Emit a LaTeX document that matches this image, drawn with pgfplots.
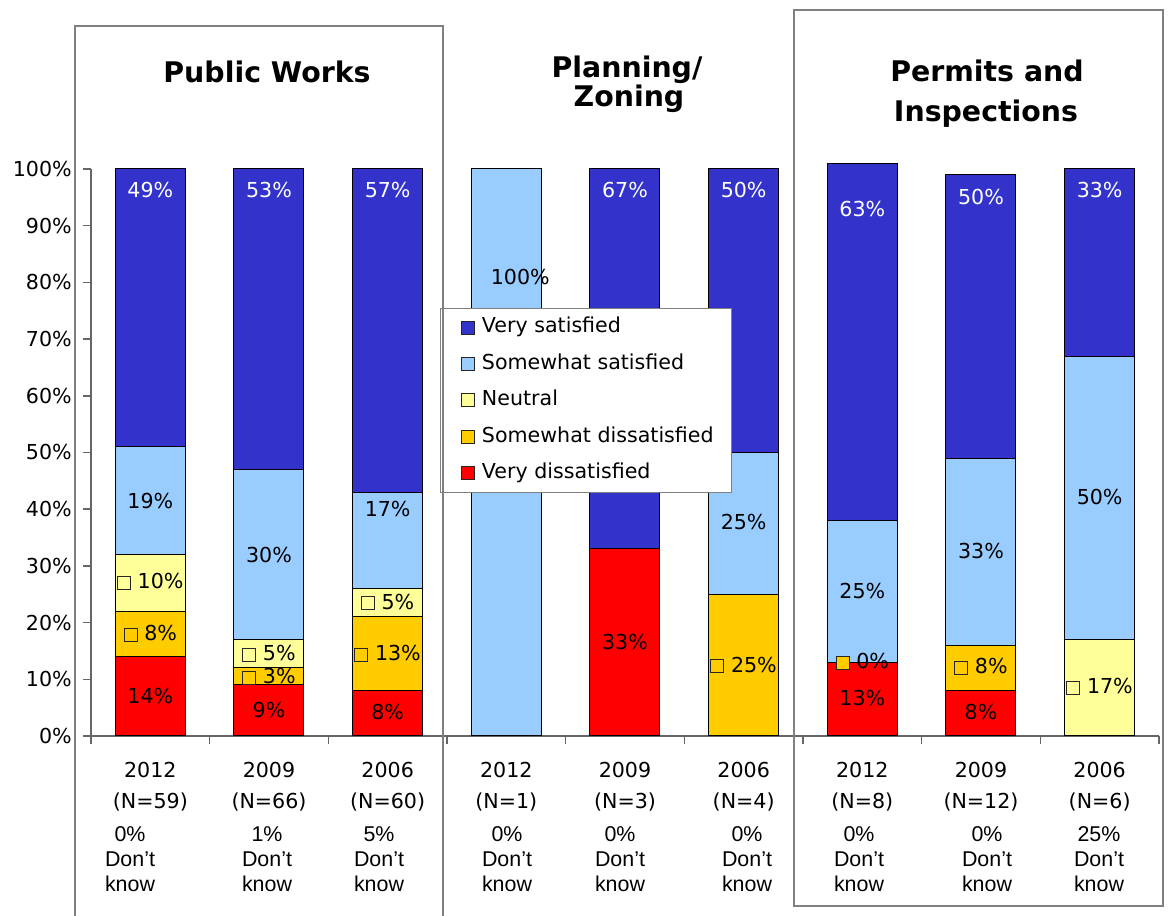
\documentclass[border=0pt]{standalone}
\usepackage{pgfplots}
\pgfplotsset{compat=1.18}
\usepackage{fontspec}
\setmainfont{DejaVu Sans}
\newfontfamily\dkfont{Liberation Sans}

\definecolor{cVS}{HTML}{3333CC}
\definecolor{cSS}{HTML}{99CCFF}
\definecolor{cN}{HTML}{FFFF99}
\definecolor{cSD}{HTML}{FFCC00}
\definecolor{cVD}{HTML}{FF0000}

\protected\def\ksq#1{{\setlength{\fboxsep}{0pt}\setlength{\fboxrule}{0.5pt}\fcolorbox{black!85}{#1}{\rule{0pt}{6pt}\hspace{6pt}}}}
\newcommand\lbl{\fontsize{10.3}{12.4}\selectfont}
\newcommand\ttl{\fontsize{14.2}{17}\selectfont\bfseries}
\newcommand\dk{\dkfont\fontsize{10.7}{12}\selectfont}

\pgfplotsset{
  commonax/.style={
    at={(45.5pt,90pt)}, anchor=south west, scale only axis,
    width=534pt, height=283.5pt,
    xmin=-0.5, xmax=8.5, ymin=0, ymax=100, clip=false,
  },
  sqleg/.style={legend image code/.code={
     \path[draw=none,fill=none] (0pt,0pt) -- (11.5pt,0pt);
     \draw[##1,draw=black!85,line width=0.5pt] (5pt,-3.25pt) rectangle (11.5pt,3.25pt);}},
}

\begin{document}
\begin{tikzpicture}
\path[use as bounding box] (0pt,0pt) rectangle (584pt,458pt);

\begin{axis}[commonax, ybar stacked, bar width=35pt,
  axis x line*=bottom, axis y line*=left,
  axis line style={black!60, line width=0.75pt, -},
  xtick={0,...,8},
  xticklabels={{2012\\(N=59)},{2009\\(N=66)},{2006\\(N=60)},{2012\\(N=1)},{2009\\(N=3)},{2006\\(N=4)},{2012\\(N=8)},{2009\\(N=12)},{2006\\(N=6)}},
  xticklabel style={align=center, font=\fontsize{10.3}{15.5}\selectfont, yshift=-9.6pt},
  ytick={0,10,...,100},
  yticklabel={\pgfmathprintnumber{\tick}\%},
  yticklabel style={font=\lbl, xshift=-6.1pt},
  /pgf/number format/assume math mode=true,
  minor xtick={-0.5,0.5,...,8.5}, minor ytick={0,10,...,100},
  major tick length=0pt, minor tick length=4pt, tick align=outside,
  tick style={black!60, line width=0.75pt},
  reverse legend,
  legend cell align=left,
  legend style={at={(0.3268,0.7549)}, anchor=north west, draw=black!50, fill=white,
    font=\lbl, inner xsep=5.6pt, inner ysep=1pt, row sep=1.05pt,
    nodes={inner sep=3.43pt, text height=7.8pt, text depth=2.5pt}},
]
\addplot[fill=cVD, draw=black, line width=0.5pt, sqleg] coordinates {(0,14) (1,9) (2,8) (3,0) (4,33) (5,0) (6,13) (7,8) (8,0)};
\addlegendentry{Very dissatisfied}
\addplot[fill=cSD, draw=black, line width=0.5pt, sqleg] coordinates {(0,8) (1,3) (2,13) (3,0) (4,0) (5,25) (6,0) (7,8) (8,0)};
\addlegendentry{Somewhat dissatisfied}
\addplot[fill=cN, draw=black, line width=0.5pt, sqleg] coordinates {(0,10) (1,5) (2,5) (3,0) (4,0) (5,0) (6,0) (7,0) (8,17)};
\addlegendentry{Neutral}
\addplot[fill=cSS, draw=black, line width=0.5pt, sqleg] coordinates {(0,19) (1,30) (2,17) (3,100) (4,0) (5,25) (6,25) (7,33) (8,50)};
\addlegendentry{Somewhat satisfied}
\addplot[fill=cVS, draw=black, line width=0.5pt, sqleg] coordinates {(0,49) (1,53) (2,57) (3,0) (4,67) (5,50) (6,63) (7,50) (8,33)};
\addlegendentry{Very satisfied}
\end{axis}

\begin{axis}[commonax, hide axis]
\addplot[draw=none, nodes near coords, point meta=explicit symbolic,
  every node near coord/.style={anchor=center, inner sep=0pt, font=\lbl, text=white}]
  coordinates {(0,96.3) [49\%] (1,96.3) [53\%] (2,96.3) [57\%] (4,96.3) [67\%]
               (5,96.3) [50\%] (6,92.9) [63\%] (7,95.1) [50\%] (8,96.3) [33\%]};
\addplot[draw=none, nodes near coords, point meta=explicit symbolic,
  every node near coord/.style={anchor=center, inner sep=0pt, font=\lbl, text=black}]
  coordinates {(0,41.4) [19\%] (0,27.2) [\ksq{cN}\ 10\%] (0,18.1) [\ksq{cSD}\ 8\%] (0,7.0) [14\%]
               (1,32.0) [30\%] (1,14.5) [\ksq{cN}\ 5\%] (1,10.5) [\ksq{cSD}\ 3\%] (1,4.6) [9\%]
               (2,40.1) [17\%] (2,23.6) [\ksq{cN}\ 5\%] (2,14.5) [\ksq{cSD}\ 13\%] (2,4.2) [8\%]
               (3.118,81.0) [100\%]
               (4,16.5) [33\%]
               (5,37.7) [25\%] (5,12.5) [\ksq{cSD}\ 25\%]
               (6,25.5) [25\%] (6,13.1) [\ksq{cSD}\ 0\%] (6,6.7) [13\%]
               (7,32.6) [33\%] (7,12.25) [\ksq{cSD}\ 8\%] (7,4.2) [8\%]
               (8,42.2) [50\%] (8,8.7) [\ksq{cN}\ 17\%]};
\end{axis}

\begin{scope}[shift={(0pt,458pt)}, x=0.5pt, y=-0.5pt]
\draw[black!50, line width=1pt] (75,916) -- (75,26) -- (443,26) -- (443,916);
\draw[black!50, line width=1pt] (794,10) rectangle (1163,906);
\node[anchor=base, font=\ttl, inner sep=0pt] at (267,83) {Public Works};
\node[anchor=base, font=\ttl, inner sep=0pt] at (627,78) {Planning/};
\node[anchor=base, font=\ttl, inner sep=0pt] at (629,107) {Zoning};
\node[anchor=base, font=\ttl, inner sep=0pt] at (987,82) {Permits and};
\node[anchor=base, font=\ttl, inner sep=0pt] at (986,122) {Inspections};
\foreach \x/\p in {130/0,267/1,379/5,507/0,620/0,747/0,859/0,987/0,1099/25} {
  \node[anchor=base, font=\dk, inner sep=0pt] at (\x,842) {\p\%};
  \node[anchor=base, font=\dk, inner sep=0pt] at (\x,867) {Don’t};
  \node[anchor=base, font=\dk, inner sep=0pt] at (\x,892) {know};
}
\end{scope}
\end{tikzpicture}
\end{document}
